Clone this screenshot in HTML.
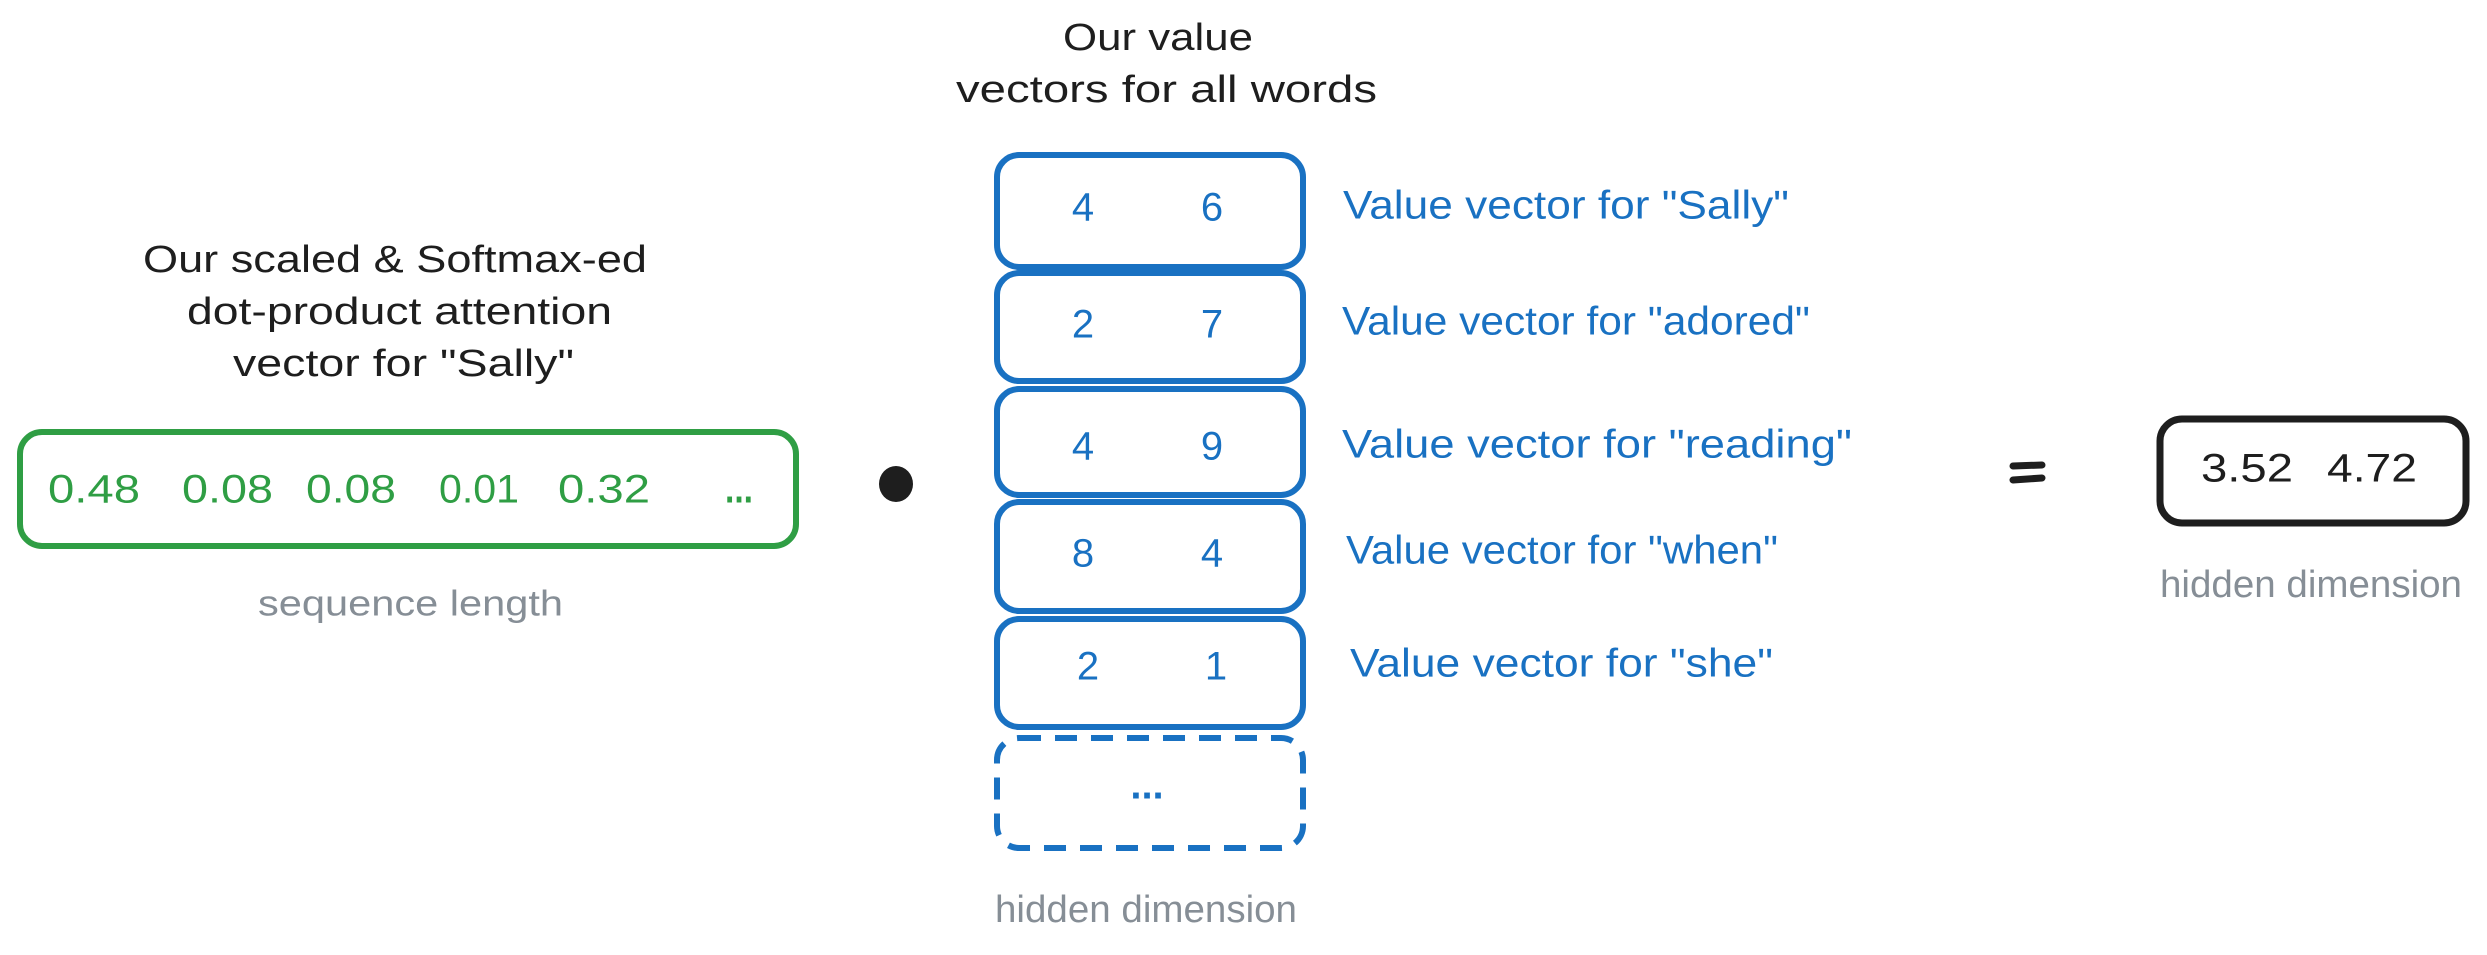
<!DOCTYPE html>
<html><head><meta charset="utf-8"><style>html,body{margin:0;padding:0;background:#fff;}svg{display:block}</style></head>
<body>
<svg width="2487" height="955" viewBox="0 0 2487 955" xmlns="http://www.w3.org/2000/svg" font-family="'Liberation Sans', sans-serif">
<rect width="2487" height="955" fill="#fff"/>
<g fill="#1e1e1e" font-size="38" dominant-baseline="middle">
<text x="143" y="262" textLength="504" lengthAdjust="spacingAndGlyphs">Our scaled &amp; Softmax-ed</text>
<text x="187" y="314" textLength="425" lengthAdjust="spacingAndGlyphs">dot-product attention</text>
<text x="233" y="366" textLength="341" lengthAdjust="spacingAndGlyphs">vector for "Sally"</text>
<text x="1063" y="40" textLength="190" lengthAdjust="spacingAndGlyphs">Our value</text>
<text x="956" y="92" textLength="421" lengthAdjust="spacingAndGlyphs">vectors for all words</text>
</g>
<rect x="20" y="432" width="776" height="114" rx="22" fill="none" stroke="#2f9e44" stroke-width="6"/>
<g fill="#2f9e44" font-size="40" dominant-baseline="middle">
<text x="48" y="492" textLength="92" lengthAdjust="spacingAndGlyphs">0.48</text>
<text x="182" y="492" textLength="91" lengthAdjust="spacingAndGlyphs">0.08</text>
<text x="306" y="492" textLength="90" lengthAdjust="spacingAndGlyphs">0.08</text>
<text x="439" y="492" textLength="80" lengthAdjust="spacingAndGlyphs">0.01</text>
<text x="558" y="492" textLength="92" lengthAdjust="spacingAndGlyphs">0.32</text>
<text x="725" y="492" font-weight="bold" textLength="28" lengthAdjust="spacingAndGlyphs">...</text>
</g>
<text x="258" y="606" font-size="36" fill="#868e96" dominant-baseline="middle" textLength="305" lengthAdjust="spacingAndGlyphs">sequence length</text>
<ellipse cx="896" cy="484" rx="17" ry="18" fill="#1e1e1e"/>
<g fill="none" stroke="#1971c2" stroke-width="6">
<rect x="997" y="155" width="306" height="112" rx="22"/>
<rect x="997" y="273" width="306" height="108" rx="22"/>
<rect x="997" y="389" width="306" height="106" rx="22"/>
<rect x="997" y="502" width="306" height="109" rx="22"/>
<rect x="997" y="619" width="306" height="108" rx="22"/>
<rect x="997" y="738" width="306" height="110" rx="22" stroke-dasharray="22 14"/>
</g>
<g fill="#1971c2" font-size="40" dominant-baseline="middle" text-anchor="middle">
<text x="1083" y="210">4</text><text x="1212" y="210">6</text>
<text x="1083" y="327">2</text><text x="1212" y="327">7</text>
<text x="1083" y="449">4</text><text x="1212" y="449">9</text>
<text x="1083" y="556">8</text><text x="1212" y="556">4</text>
<text x="1088" y="669">2</text><text x="1216" y="669">1</text>
<text x="1147" y="788" font-weight="bold">...</text>
</g>
<g fill="#1971c2" font-size="40" dominant-baseline="middle">
<text x="1343" y="208" textLength="446" lengthAdjust="spacingAndGlyphs">Value vector for "Sally"</text>
<text x="1342" y="324" textLength="468" lengthAdjust="spacingAndGlyphs">Value vector for "adored"</text>
<text x="1342" y="447" textLength="510" lengthAdjust="spacingAndGlyphs">Value vector for "reading"</text>
<text x="1346" y="553" textLength="432" lengthAdjust="spacingAndGlyphs">Value vector for "when"</text>
<text x="1350" y="666" textLength="423" lengthAdjust="spacingAndGlyphs">Value vector for "she"</text>
</g>
<text x="995" y="912" font-size="38" fill="#868e96" dominant-baseline="middle" textLength="302" lengthAdjust="spacingAndGlyphs">hidden dimension</text>
<g stroke="#1e1e1e" stroke-width="7" stroke-linecap="round">
<line x1="2013" y1="466" x2="2042" y2="465"/>
<line x1="2013" y1="480" x2="2042" y2="478"/>
</g>
<rect x="2160" y="419" width="306" height="104" rx="22" fill="none" stroke="#1e1e1e" stroke-width="7"/>
<g fill="#1e1e1e" font-size="40" dominant-baseline="middle">
<text x="2201" y="471" textLength="92" lengthAdjust="spacingAndGlyphs">3.52</text>
<text x="2327" y="471" textLength="90" lengthAdjust="spacingAndGlyphs">4.72</text>
</g>
<text x="2160" y="587" font-size="38" fill="#868e96" dominant-baseline="middle" textLength="302" lengthAdjust="spacingAndGlyphs">hidden dimension</text>
</svg>
</body></html>
